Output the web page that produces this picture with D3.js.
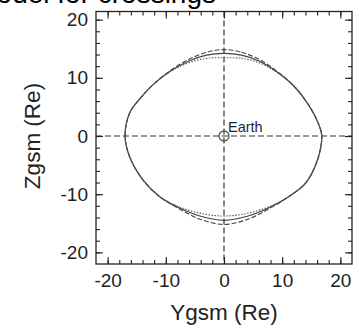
<!DOCTYPE html>
<html>
<head>
<meta charset="utf-8">
<script src="https://cdn.jsdelivr.net/npm/d3@7"></script>
<style>
  body { margin: 0; background: #fff; }
  svg { display: block; font-family: "Liberation Sans", Arial, sans-serif; }
</style>
</head>
<body>
<script>
// tick values
const majorTicks = [-20, -10, 0, 10, 20];
const minorTicks = [-20, -18, -16, -14, -12, -10, -8, -6, -4, -2, 0, 2, 4, 6, 8, 10, 12, 14, 16, 18, 20];

// boundary cross-sections (Ygsm, Zgsm), clockwise from top
const curveY = [0, 3, 6, 9, 12, 14.5, 16.2, 16.8, 16.1, 14.1, 11.3, 8, 4, 0, -4, -8, -11.1, -13.9, -16.2, -17.0, -16.2, -14.3, -12, -9, -6, -3];
const solidZ = [14.2, 13.9, 12.9, 11.1, 8.6, 5.4, 2.2, 0, -4.0, -8.0, -10.3, -12.2, -13.8, -14.5, -13.8, -12.2, -10.4, -7.6, -3.6, 0, 4.0, 6.6, 9.0, 11.3, 12.9, 13.9];
const dashedZ = [14.85, 14.4, 13.2, 11.2, 8.6, 5.4, 2.2, 0, -4.0, -8.0, -10.3, -12.35, -14.35, -15.2, -14.35, -12.35, -10.4, -7.6, -3.6, 0, 4.0, 6.6, 9.0, 11.4, 13.2, 14.4];
const dottedZ = [13.45, 13.35, 12.6, 11.0, 8.6, 5.4, 2.2, 0, -4.0, -8.0, -10.3, -12.05, -13.3, -13.75, -13.3, -12.05, -10.4, -7.6, -3.6, 0, 4.0, 6.6, 9.0, 11.2, 12.6, 13.35];

const W = 362, H = 328;
const pLeft = 96, pRight = 352, pTop = 11.5, pBottom = 264;

const svg = d3.select("body").append("svg")
    .attr("width", W)
    .attr("height", H);

const x = d3.scaleLinear().domain([-22, 22]).range([pLeft, pRight]);
const y = d3.scaleLinear().domain([-22, 21.4]).range([pBottom, pTop]);

// title, cut off at the top edge in the original
svg.append("text")
    .attr("x", 216).attr("y", 3)
    .attr("text-anchor", "end")
    .attr("font-size", 28)
    .attr("fill", "#000")
    .text("Magnetopause model for crossings");

// dashed zero lines
svg.append("line")
    .attr("x1", pLeft).attr("x2", pRight)
    .attr("y1", y(0)).attr("y2", y(0))
    .attr("stroke", "#333").attr("stroke-width", 1.2)
    .attr("stroke-dasharray", "6,3");
svg.append("line")
    .attr("x1", x(0)).attr("x2", x(0))
    .attr("y1", pTop).attr("y2", pBottom)
    .attr("stroke", "#333").attr("stroke-width", 1.2)
    .attr("stroke-dasharray", "6,3");

// curves
const line = d3.line()
    .x(d => x(d[0]))
    .y(d => y(d[1]))
    .curve(d3.curveCatmullRomClosed.alpha(0.5));

const series = [
    { z: solidZ, dash: null, width: 1.2, color: "#444" },
    { z: dashedZ, dash: "5,2", width: 1.1, color: "#444" },
    { z: dottedZ, dash: "1.5,1.5", width: 1.1, color: "#555" }
];
series.forEach(s => {
    const pts = curveY.map((v, i) => [v, s.z[i]]);
    svg.append("path")
        .attr("d", line(pts))
        .attr("fill", "none")
        .attr("stroke", s.color)
        .attr("stroke-width", s.width)
        .attr("stroke-dasharray", s.dash);
});

// Earth
svg.append("circle")
    .attr("cx", x(0)).attr("cy", y(0)).attr("r", 5)
    .attr("fill", "none")
    .attr("stroke", "#555").attr("stroke-width", 1.3);
svg.append("text")
    .attr("x", x(0) + 4).attr("y", y(0) - 4)
    .attr("font-size", 14.5)
    .attr("fill", "#1f2640")
    .text("Earth");

// axes with inward ticks
function ticks(axisFn, scale, pos, size, values, labels, pad) {
    const a = axisFn(scale)
        .tickValues(values)
        .tickSizeInner(size)
        .tickSizeOuter(0)
        .tickPadding(pad)
        .tickFormat(labels ? (d => String(d)) : "");
    const g = svg.append("g").attr("transform", pos).call(a);
    g.select(".domain").remove();
    g.selectAll("line").attr("stroke", "#222").attr("stroke-width", 1.1);
    g.selectAll("text")
        .attr("font-size", 19)
        .attr("fill", "#222")
        .attr("font-family", "Liberation Sans, Arial, sans-serif");
    return g;
}

ticks(d3.axisBottom, x, `translate(0,${pBottom})`, -4, minorTicks, false, 0);
ticks(d3.axisBottom, x, `translate(0,${pBottom})`, -7, majorTicks, true, 10);
ticks(d3.axisTop, x, `translate(0,${pTop})`, -4, minorTicks, false, 0);
ticks(d3.axisTop, x, `translate(0,${pTop})`, -7, majorTicks, false, 0);
ticks(d3.axisLeft, y, `translate(${pLeft},0)`, -4, minorTicks, false, 0);
ticks(d3.axisLeft, y, `translate(${pLeft},0)`, -7, majorTicks, true, 8);
ticks(d3.axisRight, y, `translate(${pRight},0)`, -4, minorTicks, false, 0);
ticks(d3.axisRight, y, `translate(${pRight},0)`, -7, majorTicks, false, 0);

// frame
svg.append("rect")
    .attr("x", pLeft).attr("y", pTop)
    .attr("width", pRight - pLeft).attr("height", pBottom - pTop)
    .attr("fill", "none")
    .attr("stroke", "#222").attr("stroke-width", 1.3);

// axis titles
svg.append("text")
    .attr("x", (pLeft + pRight) / 2).attr("y", 320)
    .attr("text-anchor", "middle")
    .attr("font-size", 22.5)
    .attr("fill", "#222")
    .text("Ygsm (Re)");
svg.append("text")
    .attr("transform", `translate(40,${y(0)}) rotate(-90)`)
    .attr("text-anchor", "middle")
    .attr("font-size", 22.5)
    .attr("fill", "#222")
    .text("Zgsm (Re)");
</script>
</body>
</html>
